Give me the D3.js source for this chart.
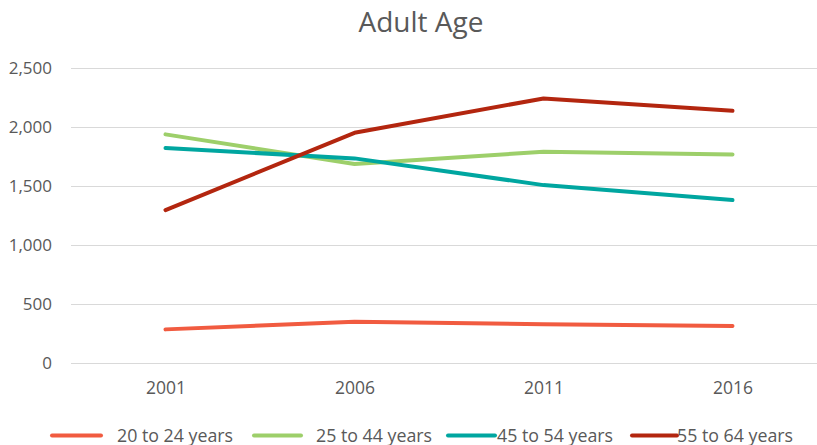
<!DOCTYPE html>
<html>
<head>
<meta charset="utf-8">
<title>Adult Age</title>
<script src="https://d3js.org/d3.v7.min.js"></script>
<style>
  body { margin: 0; background: #fff; }
  text { font-family: 'Open Sans', sans-serif; fill: #595959; }
  .grid line { stroke: #d9d9d9; stroke-width: 1px; }
  .series { fill: none; stroke-width: 4px; stroke-linejoin: round; stroke-linecap: round; }
</style>
</head>
<body>
<svg id="chart" width="817" height="445"></svg>
<script>
// data
var years = ["2001", "2006", "2011", "2016"];
var seriesNames = ["20 to 24 years", "25 to 44 years", "45 to 54 years", "55 to 64 years"];
var age20to24 = [283, 348, 326, 312];
var age25to44 = [1939, 1687, 1791, 1769];
var age45to54 = [1823, 1735, 1508, 1381];
var age55to64 = [1296, 1952, 2244, 2139];
var yTicks = [0, 500, 1000, 1500, 2000, 2500];
var colors = ["#f15b40", "#9dcf6a", "#00a6a0", "#b3260f"];

var allSeries = [age20to24, age25to44, age45to54, age55to64];

var svg = d3.select("#chart");

var x = d3.scalePoint().domain(years).range([71, 827]).padding(0.5);
var y = d3.scaleLinear().domain([0, 2500]).range([362.7, 68.3]);

// title
svg.append("text")
    .attr("x", 421).attr("y", 32)
    .attr("text-anchor", "middle")
    .style("font-size", "28px")
    .text("Adult Age");

// gridlines
svg.append("g").attr("class", "grid")
  .selectAll("line")
  .data(yTicks)
  .enter().append("line")
    .attr("x1", 71).attr("x2", 817)
    .attr("y1", function(d) { return Math.round(y(d)) + 0.5; })
    .attr("y2", function(d) { return Math.round(y(d)) + 0.5; });

// y axis labels
var yAxis = d3.axisLeft(y).tickValues(yTicks).tickSize(0).tickPadding(0)
    .tickFormat(d3.format(","));
var gy = svg.append("g").attr("transform", "translate(52,0)").call(yAxis);
gy.select(".domain").remove();
gy.selectAll("text").style("font-size", "17px").style("fill", "#595959")
    .style("font-family", "'Open Sans', sans-serif");

// x axis labels
var xAxis = d3.axisBottom(x).tickSize(0).tickPadding(0);
var gx = svg.append("g").attr("transform", "translate(0,382)").call(xAxis);
gx.select(".domain").remove();
gx.selectAll("text").style("font-size", "17.5px").style("fill", "#595959")
    .style("font-family", "'Open Sans', sans-serif");

// lines
var line = d3.line()
    .x(function(d, i) { return x(years[i]); })
    .y(function(d) { return y(d); });

svg.append("g")
  .selectAll("path")
  .data(allSeries)
  .enter().append("path")
    .attr("class", "series")
    .attr("stroke", function(d, i) { return colors[i]; })
    .attr("d", line);

// legend (Excel-style uneven spacing)
var legendSwatch = [[52, 101], [254, 301], [448, 495], [632, 677]];
var legendText = [117, 316, 497, 677];
var legend = svg.append("g");
seriesNames.forEach(function(name, i) {
  legend.append("line")
      .attr("x1", legendSwatch[i][0]).attr("x2", legendSwatch[i][1])
      .attr("y1", 435.5).attr("y2", 435.5)
      .attr("stroke", colors[i])
      .attr("stroke-width", 4)
      .attr("stroke-linecap", "round");
  legend.append("text")
      .attr("x", legendText[i]).attr("y", 441.5)
      .style("font-size", "17.8px")
      .text(name);
});
</script>
</body>
</html>
